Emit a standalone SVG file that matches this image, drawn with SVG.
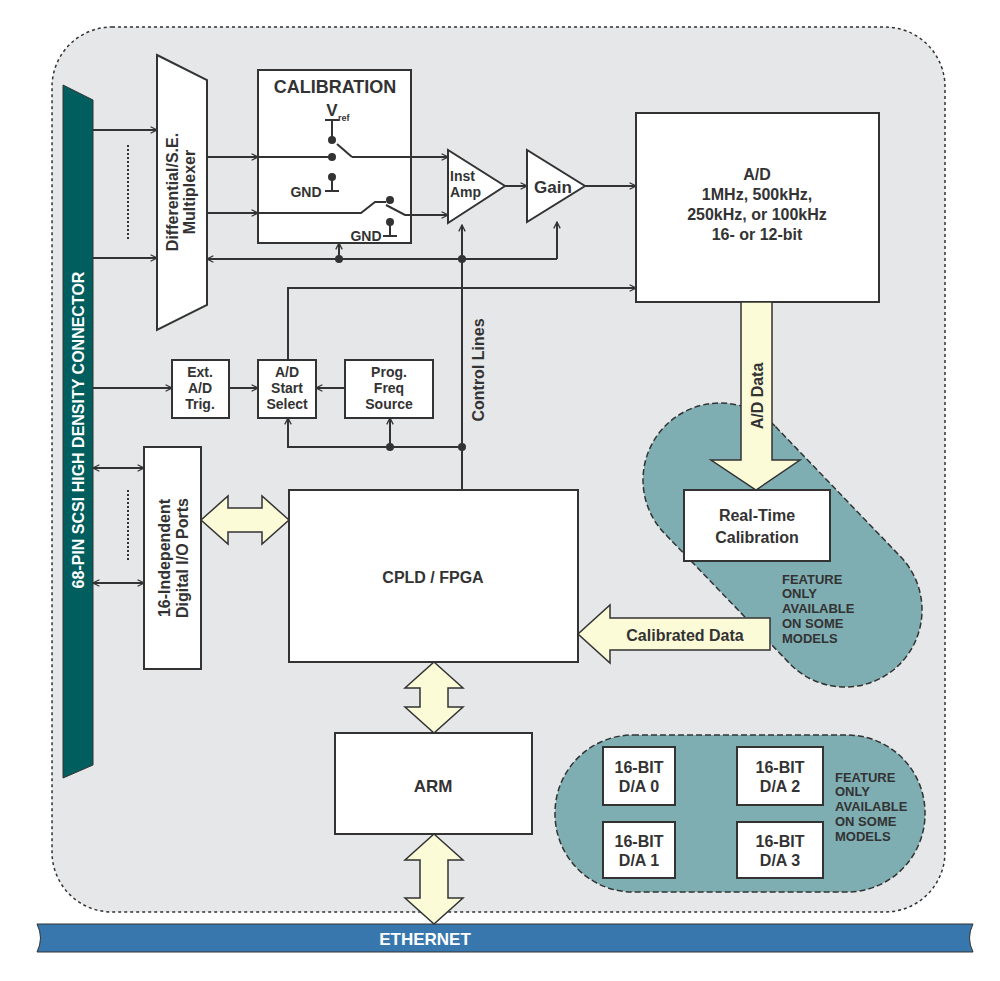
<svg xmlns="http://www.w3.org/2000/svg" width="1000" height="981" viewBox="0 0 1000 981">
<defs>
<style>
.b{fill:#fff;stroke:#333;stroke-width:2}
.l{fill:none;stroke:#333;stroke-width:2}
.t{font-family:"Liberation Sans",Arial,sans-serif;font-weight:bold;fill:#333;font-size:15px;text-anchor:middle}
.big{fill:#fbfbd8;stroke:#333;stroke-width:1.5}
.teal{fill:#7eadb2;stroke:#333;stroke-width:1.5;stroke-dasharray:6 3}
.f{font-family:"Liberation Sans",Arial,sans-serif;font-weight:bold;fill:#333;font-size:13px}
</style>
<marker id="a" viewBox="0 0 10 10" refX="9" refY="5" markerWidth="8" markerHeight="8" orient="auto-start-reverse" markerUnits="userSpaceOnUse"><path d="M1,1 L9,5 L1,9" fill="none" stroke="#333" stroke-width="1.6"/></marker>
</defs>
<rect width="1000" height="981" fill="#fff"/>
<rect x="52" y="27" width="893" height="885" rx="60" fill="#e6e7e9" stroke="#333" stroke-width="1.5" stroke-dasharray="3 3"/>
<path d="M37,924 H973 Q966,938 973,952 H37 Q44,938 37,924 Z" fill="#3877ad" stroke="#333" stroke-width="1"/>
<text x="425" y="945" font-family="Liberation Sans Narrow,Liberation Sans,sans-serif" font-weight="bold" font-size="17" fill="#fff" text-anchor="middle">ETHERNET</text>
<g id="connector"><path d="M63,85 L93,100 V765 L63,778 Z" fill="#005e5e" stroke="#333" stroke-width="1"/>
<text transform="translate(84,430) rotate(-90)" class="t" style="fill:#fff;font-size:16px">68-PIN SCSI HIGH DENSITY CONNECTOR</text></g>
<g id="teal1"><path class="teal" d="M775.5,426.6 L900.5,556.6 A77,77 0 0 1 789.5,663.4 L664.5,533.4 A77,77 0 0 1 775.5,426.6 Z"/>
<text class="f"><tspan x="782" y="584">FEATURE</tspan><tspan x="782" y="598">ONLY</tspan><tspan x="782" y="613">AVAILABLE</tspan><tspan x="782" y="628">ON SOME</tspan><tspan x="782" y="643">MODELS</tspan></text></g>
<g id="teal2"><rect class="teal" x="555" y="735" width="370" height="157" rx="78"/>
<text class="f"><tspan x="835" y="782">FEATURE</tspan><tspan x="835" y="796">ONLY</tspan><tspan x="835" y="811">AVAILABLE</tspan><tspan x="835" y="826">ON SOME</tspan><tspan x="835" y="841">MODELS</tspan></text></g>
<g id="mux"><path class="b" d="M157,55 L207,80 V305 L157,330 Z"/><text transform="translate(178,192) rotate(-90)" class="t" style="font-size:16px">Differential/S.E.<tspan x="0" dy="17">Multiplexer</tspan></text></g>
<g id="cal"><rect class="b" x="258" y="70" width="153" height="173"/><text x="335" y="93" class="t" style="font-size:18px">CALIBRATION</text>
<text x="332" y="116" class="t" style="font-size:17px">V</text><text x="338" y="121" class="f" style="font-size:9px">ref</text>
<text x="306" y="197" class="t" style="font-size:14px">GND</text><text x="366" y="241" class="t" style="font-size:14px">GND</text></g>
<g id="inst"><path class="b" d="M448,150 V223 L505,186 Z"/><text x="450" y="181" class="t" style="text-anchor:start;font-size:14px">Inst<tspan x="450" dy="16">Amp</tspan></text></g>
<g id="gain"><path class="b" d="M527,150 V222 L585,186 Z"/><text x="553" y="193" class="t" style="font-size:17px">Gain</text></g>
<g id="ad"><rect class="b" x="636" y="113" width="243" height="189"/><text class="t" style="font-size:16px"><tspan x="757" y="180">A/D</tspan><tspan x="757" y="200">1MHz, 500kHz,</tspan><tspan x="757" y="220">250kHz, or 100kHz</tspan><tspan x="757" y="240">16- or 12-bit</tspan></text></g>
<g id="ext"><rect class="b" x="172" y="360" width="57" height="58"/><text class="t" style="font-size:14px"><tspan x="200" y="377">Ext.</tspan><tspan x="200" y="393">A/D</tspan><tspan x="200" y="409">Trig.</tspan></text></g>
<g id="start"><rect class="b" x="258" y="360" width="58" height="58"/><text class="t" style="font-size:14px"><tspan x="287" y="377">A/D</tspan><tspan x="287" y="393">Start</tspan><tspan x="287" y="409">Select</tspan></text></g>
<g id="prog"><rect class="b" x="345" y="360" width="88" height="58"/><text class="t" style="font-size:14px"><tspan x="389" y="377">Prog.</tspan><tspan x="389" y="393">Freq</tspan><tspan x="389" y="409">Source</tspan></text></g>
<g id="dio"><rect class="b" x="144" y="447" width="57" height="222"/><text transform="translate(170,558) rotate(-90)" class="t" style="font-size:16px">16-Independent<tspan x="0" dy="18">Digital I/O Ports</tspan></text></g>
<g id="cpld"><rect class="b" x="289" y="490" width="289" height="172"/><text x="433" y="583" class="t" style="font-size:16px">CPLD / FPGA</text></g>
<g id="arm"><rect class="b" x="335" y="733" width="197" height="101"/><text x="433" y="792" class="t" style="font-size:17px">ARM</text></g>
<g id="rtc"><rect class="b" x="684" y="490" width="146" height="71"/><text class="t" style="font-size:16px"><tspan x="757" y="521">Real-Time</tspan><tspan x="757" y="543">Calibration</tspan></text></g>
<g id="da"><rect class="b" x="603" y="747" width="72" height="58"/><rect class="b" x="737" y="747" width="86" height="58"/><rect class="b" x="603" y="822" width="72" height="56"/><rect class="b" x="737" y="822" width="86" height="56"/>
<text class="t" style="font-size:16px"><tspan x="639" y="773">16-BIT</tspan><tspan x="639" y="792">D/A 0</tspan><tspan x="780" y="773">16-BIT</tspan><tspan x="780" y="792">D/A 2</tspan><tspan x="639" y="847">16-BIT</tspan><tspan x="639" y="866">D/A 1</tspan><tspan x="780" y="847">16-BIT</tspan><tspan x="780" y="866">D/A 3</tspan></text></g>
<g id="bigarrows">
<path class="big" d="M741,302 H772 V460 H800 L756,490 L711,460 H741 Z"/><text transform="translate(763,396) rotate(-90)" class="t" style="font-size:16px">A/D Data</text>
<path class="big" d="M770,618 V650 H610 V663 L578,634 L610,605 V618 Z"/><text x="685" y="641" class="t" style="font-size:16px">Calibrated Data</text>
<path class="big" d="M201,520 L228,496 V508 H262 V496 L289,520 L262,544 V532 H228 V544 Z"/>
<path class="big" d="M434,662 L463,688 H448 V707 H463 L434,733 L405,707 H420 V688 H405 Z"/>
<path class="big" d="M434,834 L463,860 H448 V898 H463 L434,924 L405,898 H420 V860 H405 Z"/>
</g>
<g id="connectors">
<path class="l" d="M93,130 H157" marker-end="url(#a)"/><path class="l" d="M93,258 H157" marker-end="url(#a)"/>
<path class="l" d="M128,145 V240" stroke-dasharray="2 2" stroke-width="1.5"/><path class="l" d="M128,490 V560" stroke-dasharray="2 2" stroke-width="1.5"/>
<path class="l" d="M207,157 H258" marker-end="url(#a)"/><path class="l" d="M207,213 H258" marker-end="url(#a)"/>
<path class="l" d="M258,157 H332 M352,157 H448" marker-end="url(#a)"/><path class="l" d="M352,157 L337,144"/>
<path class="l" d="M332,120 V140 M325,120 H339"/>
<path class="l" d="M332,177 V191 M325,191 H339"/>
<path class="l" d="M258,213 H361 L375,202 H386 M386,205 L405,215 H448" marker-end="url(#a)"/>
<path class="l" d="M390,222 V236 M383,236 H397"/>
<circle cx="332" cy="140" r="4" fill="#333"/><circle cx="332" cy="157" r="4" fill="#333"/><circle cx="332" cy="177" r="4" fill="#333"/><circle cx="390" cy="200" r="4" fill="#333"/><circle cx="390" cy="222" r="4" fill="#333"/>
<path class="l" d="M505,186 H527" marker-end="url(#a)"/><path class="l" d="M585,186 H636" marker-end="url(#a)"/>
<path class="l" d="M557,259 H207" marker-end="url(#a)"/><path class="l" d="M557,259 V222" marker-end="url(#a)"/>
<path class="l" d="M462,490 V225" marker-end="url(#a)"/><path class="l" d="M339,259 V243" marker-end="url(#a)"/>
<circle cx="339" cy="259" r="4" fill="#333"/><circle cx="462" cy="259" r="4" fill="#333"/>
<text transform="translate(484,370) rotate(-90)" class="t" style="font-size:16px">Control Lines</text>
<path class="l" d="M288,360 V288 H636" marker-end="url(#a)"/>
<path class="l" d="M93,388 H172" marker-end="url(#a)"/><path class="l" d="M229,388 H258" marker-end="url(#a)"/><path class="l" d="M345,388 H316" marker-end="url(#a)"/>
<path class="l" d="M462,447 H288 V418" marker-end="url(#a)"/><path class="l" d="M390,447 V418" marker-end="url(#a)"/>
<circle cx="390" cy="447" r="4" fill="#333"/><circle cx="462" cy="447" r="4" fill="#333"/>
<path class="l" d="M93,468 H144" marker-start="url(#a)" marker-end="url(#a)"/><path class="l" d="M93,583 H144" marker-start="url(#a)" marker-end="url(#a)"/>
</g>
</svg>
